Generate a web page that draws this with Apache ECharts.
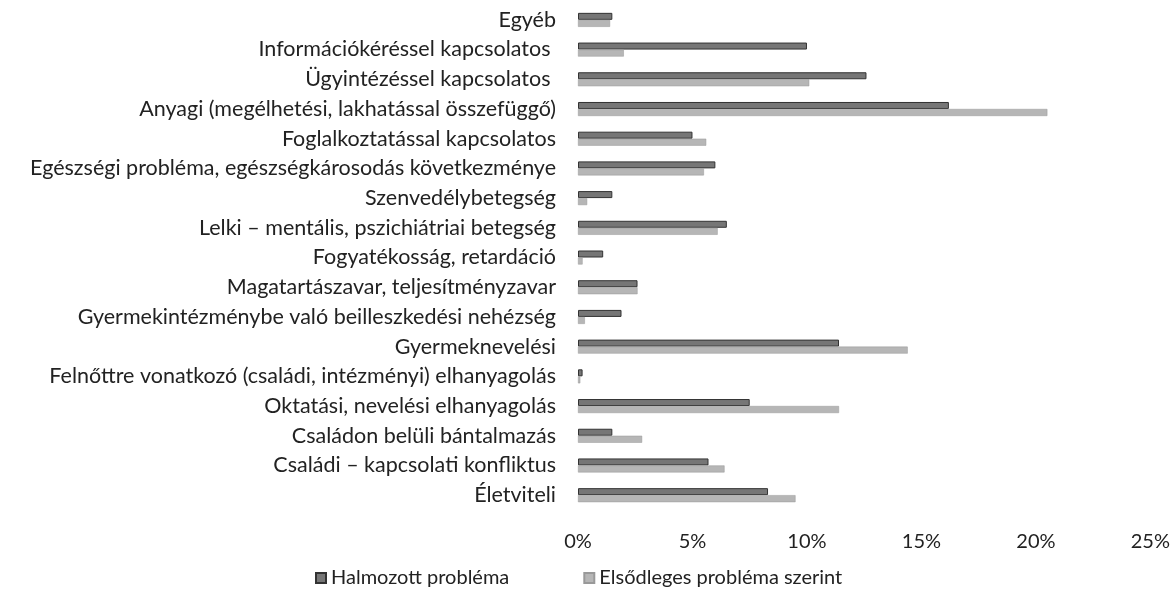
<!DOCTYPE html>
<html>
<head>
<meta charset="utf-8">
<script src="https://cdn.jsdelivr.net/npm/echarts@6/dist/echarts.min.js"></script>
<style>
  html, body { margin: 0; padding: 0; background: #fff; }
  #chart { width: 1173px; height: 607px; }
</style>
</head>
<body>
<div id="chart"></div>
<script>
// categories top to bottom, as in the picture
const categories = [
  'Egyéb',
  'Információkéréssel kapcsolatos ',
  'Ügyintézéssel kapcsolatos ',
  'Anyagi (megélhetési, lakhatással összefüggő)',
  'Foglalkoztatással kapcsolatos',
  'Egészségi probléma, egészségkárosodás következménye',
  'Szenvedélybetegség',
  'Lelki – mentális, pszichiátriai betegség',
  'Fogyatékosság, retardáció',
  'Magatartászavar, teljesítményzavar',
  'Gyermekintézménybe való beilleszkedési nehézség',
  'Gyermeknevelési',
  'Felnőttre vonatkozó (családi, intézményi) elhanyagolás',
  'Oktatási, nevelési elhanyagolás',
  'Családon belüli bántalmazás',
  'Családi – kapcsolati konfliktus',
  'Életviteli'
]

// percent values
const halmozott = [1.5, 10.0, 12.6, 16.2, 5.0, 6.0, 1.5, 6.5, 1.1, 2.6, 1.9, 11.4, 0.2, 7.5, 1.5, 5.7, 8.3]
const elsodleges = [1.4, 2.0, 10.1, 20.5, 5.6, 5.5, 0.4, 6.1, 0.2, 2.6, 0.3, 14.4, 0.1, 11.4, 2.8, 6.4, 9.5]

const xTicks = { min: 0, max: 25, interval: 5 }

const chart = echarts.init(document.getElementById('chart'))

const font = 'Lato, "Open Sans", sans-serif'

chart.setOption({
  animation: false,
  textStyle: { fontFamily: font },
  legend: {
    data: ['Halmozott probléma', 'Elsődleges probléma szerint'],
    bottom: 14,
    left: 310,
    itemWidth: 10,
    itemHeight: 10,
    itemGap: 74,
    icon: 'rect',
    textStyle: { fontSize: 20, color: '#222', fontFamily: font }
  },
  grid: {
    left: 578,
    right: 22,
    top: 5,
    bottom: 97
  },
  xAxis: {
    type: 'value',
    min: xTicks.min,
    max: xTicks.max,
    interval: xTicks.interval,
    axisLine: { show: false },
    axisTick: { show: false },
    splitLine: { show: false },
    axisLabel: {
      formatter: '{value}%',
      fontSize: 20,
      color: '#222',
      margin: 22,
      fontFamily: font
    }
  },
  yAxis: {
    type: 'category',
    data: categories,
    inverse: true,
    axisLine: { show: false },
    axisTick: { show: false },
    axisLabel: {
      fontSize: 21.5,
      color: '#222',
      margin: 22,
      fontFamily: font
    }
  },
  series: [
    {
      name: 'Halmozott probléma',
      type: 'bar',
      data: halmozott,
      barWidth: 7,
      barGap: '0%',
      itemStyle: { color: '#767676', borderColor: '#333', borderWidth: 1 }
    },
    {
      name: 'Elsődleges probléma szerint',
      type: 'bar',
      data: elsodleges,
      barWidth: 7,
      barGap: '0%',
      itemStyle: { color: '#b6b6b6', borderColor: '#999', borderWidth: 0.5 }
    }
  ]
})
</script>
</body>
</html>
